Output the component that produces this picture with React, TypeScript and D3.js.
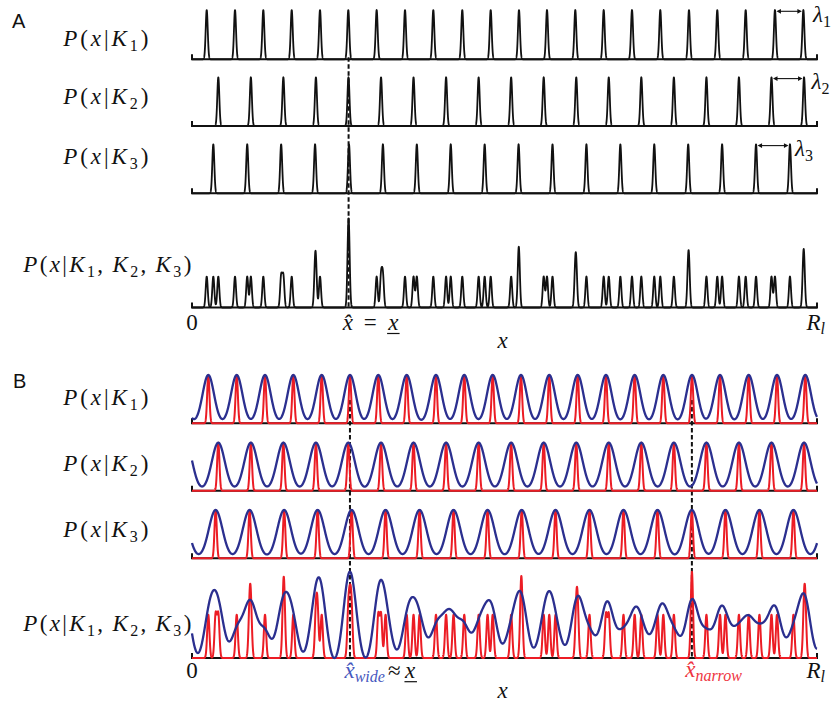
import React from 'react';
import * as d3 from 'd3';

// Environment range shown on the x axis (0 .. R_l), in position units
const X_MAX = 110;

// Panel A: firing-field centres of the three grid modules
const fieldsA_K1 = [2.59, 7.57, 12.55, 17.55, 22.53, 27.51, 32.5, 37.49, 42.47, 47.57, 52.57, 57.55, 62.48, 67.46, 72.46, 77.44, 82.42, 87.47, 92.45, 97.45, 102.6, 107.6];
const fieldsA_K2 = [4.63, 10.36, 16.08, 21.81, 27.54, 33.27, 38.99, 44.72, 50.45, 56.17, 61.9, 67.63, 73.35, 79.08, 84.81, 90.54, 96.26, 101.99, 107.72];
const fieldsA_K3 = [3.75, 9.72, 15.69, 21.66, 27.63, 33.6, 39.57, 45.54, 51.51, 57.48, 63.45, 69.42, 75.39, 81.36, 87.33, 93.3, 99.27, 105.24];

// Panel B: field centres (including the neighbours just outside 0 .. R_l)
const fieldsB_K1 = [-2.15, 2.87, 7.87, 12.85, 17.83, 22.83, 27.81, 32.79, 37.79, 42.94, 47.92, 52.92, 57.9, 62.88, 67.88, 72.86, 77.91, 82.95, 88.0, 92.93, 97.98, 102.96, 107.94, 112.95];
const fieldsB_K2 = [-1.1, 4.63, 10.36, 16.08, 21.81, 27.51, 33.27, 38.99, 44.72, 50.45, 56.17, 61.9, 67.63, 73.35, 79.08, 84.81, 90.54, 96.26, 101.99, 107.72, 113.45];
const fieldsB_K3 = [-1.82, 4.16, 10.14, 16.22, 22.11, 28.09, 34.07, 40.05, 46.03, 52.02, 58.03, 63.98, 69.96, 75.94, 81.93, 87.97, 93.89, 99.87, 105.85, 111.83];

const moduleIds = ['1', '2', '3'];

// Tuning widths (standard deviation, position units / fraction of period)
const narrowSigmaA = 0.18;
const narrowSigmaB = 0.2;
const wideSigmaFraction = 0.2;

const SERIF = 'Liberation Serif, Tinos, Times New Roman, serif';
const SANS = 'Liberation Sans, Arial, sans-serif';
const BLUE = '#2B2F8F';
const RED = '#EC1C24';
const LABEL_BLUE = '#4657BE';
const LABEL_RED = '#EE3440';

const W = 836;
const H = 704;

const rowsA = [
  { base: 59.3, top: 10, label: 46.4 },
  { base: 126, top: 77.3, label: 104 },
  { base: 193.3, top: 144.3, label: 164 },
];
const jointA = { base: 307.5, top: 218.3, label: 272 };
const rowsB = [
  { base: 423.3, top: 375, label: 404.7 },
  { base: 490.7, top: 442.7, label: 471.4 },
  { base: 558.3, top: 510, label: 537 },
];
const jointB = { base: 658, top: 571.7, label: 631.4 };

const grid = d3.range(0, X_MAX + 1e-9, 0.02);

function sumOfBumps(centres: number[], sigma: number): number[] {
  return grid.map((g) => {
    let s = 0;
    for (const c of centres) {
      const d = (g - c) / sigma;
      if (Math.abs(d) < 9) s += Math.exp(-0.5 * d * d);
    }
    return s;
  });
}

function normalise(v: number[], subtractMin = false): number[] {
  const lo = subtractMin ? (d3.min(v) as number) : 0;
  const hi = d3.max(v) as number;
  return v.map((a) => (a - lo) / (hi - lo));
}

function spacing(c: number[]): number {
  return (c[c.length - 1] - c[0]) / (c.length - 1);
}

function argmax(v: number[]): number {
  return grid[d3.maxIndex(v)];
}

const x = d3.scaleLinear().domain([0, X_MAX]).range([192, 817]);

function linePath(vals: number[], row: { base: number; top: number }): string {
  const y = d3.scaleLinear().domain([0, 1]).range([row.base, row.top]);
  return d3
    .line<number>()
    .x((_, i) => x(grid[i]))
    .y((v) => y(v))(vals) as string;
}

const SIZE = 23;
const SUB = 16;
const SUB_DY = 5;

function CondLabel({ xPos, y, mods, width }: { xPos: number; y: number; mods: string[]; width: number }) {
  const parts: React.ReactNode[] = [];
  parts.push(<tspan key="P" fontStyle="italic">P</tspan>);
  parts.push(<tspan key="o">(</tspan>);
  parts.push(<tspan key="x" fontStyle="italic">x</tspan>);
  parts.push(<tspan key="b">|</tspan>);
  mods.forEach((m, i) => {
    if (i > 0) parts.push(<tspan key={'c' + i} dy={-SUB_DY}>{',\u2009'}</tspan>);
    parts.push(<tspan key={'K' + i} fontStyle="italic">K</tspan>);
    parts.push(<tspan key={'s' + i} fontSize={SUB} dy={SUB_DY}>{m}</tspan>);
  });
  parts.push(<tspan key="cl" dy={-SUB_DY}>)</tspan>);
  return (
    <text x={xPos} y={y} fontFamily={SERIF} fontSize={SIZE} fill="#111" textLength={width} lengthAdjust="spacing">
      {parts}
    </text>
  );
}

function Axis({ row }: { row: { base: number } }) {
  const a = x(0);
  const b = x(X_MAX);
  return (
    <path
      d={`M${a},${row.base - 5}V${row.base}H${b}V${row.base - 5}`}
      fill="none"
      stroke="#111"
      strokeWidth={2}
    />
  );
}

function DoubleArrow({ x1, x2, y }: { x1: number; x2: number; y: number }) {
  const L = 4.5;
  const h = 2.4;
  return (
    <g>
      <line x1={x1 + 2} x2={x2 - 2} y1={y} y2={y} stroke="#111" strokeWidth={1.1} />
      <path d={`M${x1},${y}L${x1 + L},${y - h}L${x1 + L},${y + h}Z`} fill="#111" />
      <path d={`M${x2},${y}L${x2 - L},${y - h}L${x2 - L},${y + h}Z`} fill="#111" />
    </g>
  );
}

export default function App() {
  const fieldsA = [fieldsA_K1, fieldsA_K2, fieldsA_K3];
  const fieldsB = [fieldsB_K1, fieldsB_K2, fieldsB_K3];

  const narrowA = fieldsA.map((f) => normalise(sumOfBumps(f, narrowSigmaA)));
  const narrowB = fieldsB.map((f) => normalise(sumOfBumps(f, narrowSigmaB)));
  const wideB = fieldsB.map((f) => normalise(sumOfBumps(f, wideSigmaFraction * spacing(f))));

  const jointNarrowA = normalise(grid.map((_, i) => narrowA[0][i] + narrowA[1][i] + narrowA[2][i]));
  const jointNarrowB = normalise(grid.map((_, i) => narrowB[0][i] + narrowB[1][i] + narrowB[2][i]));
  const jointWideB = normalise(grid.map((_, i) => wideB[0][i] + wideB[1][i] + wideB[2][i]), true);

  const xHatA = x(argmax(jointNarrowA));
  const xHatWide = x(argmax(jointWideB));
  const xHatNarrow = x(argmax(jointNarrowB));

  const inRange = (f: number[]) => f.filter((c) => c >= 0 && c <= X_MAX);

  return (
    <svg
      width={W}
      height={H}
      viewBox={`0 0 ${W} ${H}`}
      style={{ position: 'absolute', left: 0, top: 0, background: '#fff' }}
    >
      <rect x={0} y={0} width={W} height={H} fill="#fff" />

      {/* Panel A */}
      <text x={12} y={28} fontFamily={SANS} fontSize={20} fill="#111">A</text>
      <line x1={xHatA} x2={xHatA} y1={rowsA[0].base - 2} y2={jointA.base} stroke="#111" strokeWidth={2} strokeDasharray="4.5,2.5" />
      {rowsA.map((row, k) => {
        const f = inRange(fieldsA[k]);
        return (
          <g key={'a' + k}>
            <Axis row={row} />
            <path d={linePath(narrowA[k], row)} fill="none" stroke="#111" strokeWidth={1.8} strokeLinejoin="round" />
            <CondLabel xPos={63.3} y={row.label} mods={[moduleIds[k]]} width={85} />
            <DoubleArrow x1={x(f[f.length - 2]) + 1.5} x2={x(f[f.length - 1]) - 1.5} y={row.top + 1.3} />
          </g>
        );
      })}
      <text x={813} y={22} fontFamily={SERIF} fontSize={SIZE} fill="#111">
        <tspan fontStyle="italic">λ</tspan>
        <tspan fontSize={SUB} dy={SUB_DY}>1</tspan>
      </text>
      <text x={811.5} y={89} fontFamily={SERIF} fontSize={SIZE} fill="#111">
        <tspan fontStyle="italic">λ</tspan>
        <tspan fontSize={SUB} dy={SUB_DY}>2</tspan>
      </text>
      <text x={795} y={156} fontFamily={SERIF} fontSize={SIZE} fill="#111">
        <tspan fontStyle="italic">λ</tspan>
        <tspan fontSize={SUB} dy={SUB_DY}>3</tspan>
      </text>

      <Axis row={jointA} />
      <path d={linePath(jointNarrowA, jointA)} fill="none" stroke="#111" strokeWidth={1.8} strokeLinejoin="round" />
      <CondLabel xPos={23.3} y={jointA.label} mods={moduleIds} width={168} />

      <text x={x(0)} y={330} textAnchor="middle" fontFamily={SERIF} fontSize={SIZE} fill="#111">0</text>
      <text x={xHatA - 0.8} y={330} textAnchor="middle" fontFamily={SERIF} fontSize={SIZE} fontStyle="italic" fill="#111">{'x\u0302'}</text>
      <text x={xHatA + 21.7} y={330} textAnchor="middle" fontFamily={SERIF} fontSize={SIZE} fill="#111">=</text>
      <text x={xHatA + 44.7} y={330} textAnchor="middle" fontFamily={SERIF} fontSize={SIZE} fontStyle="italic" fill="#111">x</text>
      <line x1={xHatA + 38.5} x2={xHatA + 51} y1={333.5} y2={333.5} stroke="#111" strokeWidth={1.2} />
      <text x={(x(0) + x(X_MAX)) / 2 - 2} y={348} textAnchor="middle" fontFamily={SERIF} fontSize={SIZE} fontStyle="italic" fill="#111">x</text>
      <text x={806.5} y={330} fontFamily={SERIF} fontSize={SIZE} fill="#111">
        <tspan fontStyle="italic">R</tspan>
        <tspan fontSize={SUB} fontStyle="italic" dy={4}>l</tspan>
      </text>

      {/* Panel B */}
      <text x={13} y={388} fontFamily={SANS} fontSize={20} fill="#111">B</text>
      <line x1={xHatWide} x2={xHatWide} y1={400} y2={jointB.base} stroke="#111" strokeWidth={2} strokeDasharray="4.5,2.5" />
      <line x1={xHatNarrow} x2={xHatNarrow} y1={400} y2={jointB.base} stroke="#111" strokeWidth={2} strokeDasharray="4.5,2.5" />
      {rowsB.map((row, k) => (
        <g key={'b' + k}>
          <Axis row={row} />
          <path d={linePath(narrowB[k], row)} fill="none" stroke={RED} strokeWidth={2} strokeLinejoin="round" />
          <path d={linePath(wideB[k], row)} fill="none" stroke={BLUE} strokeWidth={2.3} />
          <CondLabel xPos={63.3} y={row.label} mods={[moduleIds[k]]} width={85} />
        </g>
      ))}
      <Axis row={jointB} />
      <path d={linePath(jointNarrowB, jointB)} fill="none" stroke={RED} strokeWidth={2} strokeLinejoin="round" />
      <path d={linePath(jointWideB, jointB)} fill="none" stroke={BLUE} strokeWidth={2.3} />
      <CondLabel xPos={23.3} y={jointB.label} mods={moduleIds} width={168} />

      <text x={x(0)} y={678} textAnchor="middle" fontFamily={SERIF} fontSize={SIZE} fill="#111">0</text>
      <text x={xHatWide - 5.5} y={678} fontFamily={SERIF} fontSize={SIZE} fill={LABEL_BLUE}>
        <tspan fontStyle="italic">{'x\u0302'}</tspan>
        <tspan fontSize={SUB} fontStyle="italic" dy={4}>wide</tspan>
      </text>
      <text x={xHatWide + 38} y={678} fontFamily={SERIF} fontSize={SIZE} fill="#111">≈</text>
      <text x={xHatWide + 55} y={678} fontFamily={SERIF} fontSize={SIZE} fontStyle="italic" fill="#111">x</text>
      <line x1={xHatWide + 54.5} x2={xHatWide + 67} y1={681.7} y2={681.7} stroke="#111" strokeWidth={1.2} />

      <text x={xHatNarrow - 6.7} y={676.7} fontFamily={SERIF} fontSize={SIZE} fill={LABEL_RED}>
        <tspan fontStyle="italic">{'x\u0302'}</tspan>
        <tspan fontSize={SUB} fontStyle="italic" dy={4}>narrow</tspan>
      </text>

      <text x={(x(0) + x(X_MAX)) / 2 - 2} y={698} textAnchor="middle" fontFamily={SERIF} fontSize={SIZE} fontStyle="italic" fill="#111">x</text>
      <text x={806.5} y={678.3} fontFamily={SERIF} fontSize={SIZE} fill="#111">
        <tspan fontStyle="italic">R</tspan>
        <tspan fontSize={SUB} fontStyle="italic" dy={4}>l</tspan>
      </text>
    </svg>
  );
}
